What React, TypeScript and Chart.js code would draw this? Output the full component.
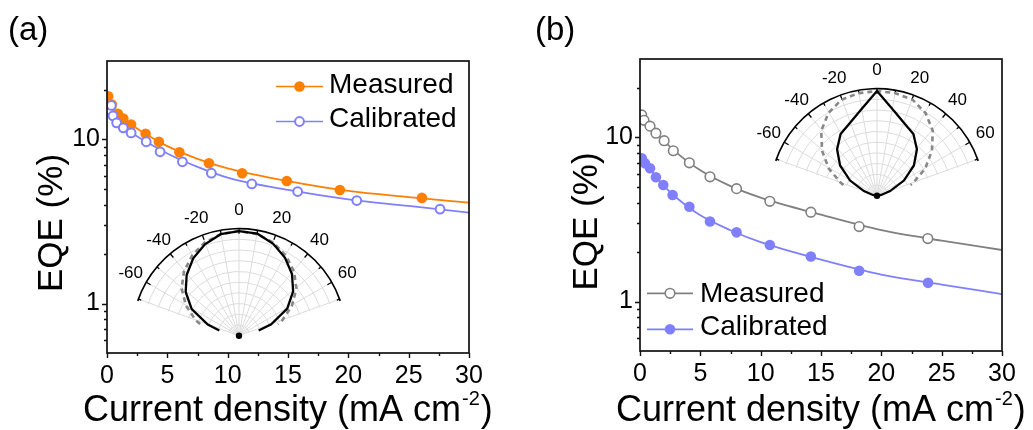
import React, { useEffect, useRef } from 'react';
import { Chart, registerables } from 'chart.js';

Chart.register(...registerables);

const FONT = "'Liberation Sans', Arial, sans-serif";

// ---------------- Panel (a) data ----------------
const A_MEAS_X = [0.1, 0.4, 0.9, 1.35, 2.0, 3.2, 4.3, 6.0, 8.45, 11.2, 14.9, 19.3, 26.1];
const A_MEAS_Y = [18.3, 16.3, 14.3, 13.4, 12.3, 10.8, 9.67, 8.34, 7.15, 6.22, 5.58, 4.92, 4.4];
const A_CAL_X = [0.17, 0.36, 0.5, 0.8, 1.35, 2.0, 3.25, 4.4, 6.25, 8.65, 12.0, 15.8, 20.7, 27.6];
const A_CAL_Y = [15.1, 16.1, 13.9, 12.6, 11.75, 10.95, 9.67, 8.4, 7.3, 6.22, 5.35, 4.81, 4.24, 3.76];
const FIT_X = [0, 1, 2, 3, 5, 7.5, 10, 15, 20, 25, 30];
const A_MEAS_FIT_Y = [19.1, 14.2, 12.3, 11.0, 9.1, 7.6, 6.65, 5.56, 4.85, 4.45, 4.12];
const A_CAL_FIT_Y = [15.0, 12.2, 11.0, 9.9, 8.2, 6.8, 5.85, 4.92, 4.31, 3.93, 3.58];

// ---------------- Panel (b) data ----------------
const B_MEAS_X = [0.14, 0.33, 0.83, 1.32, 2.0, 2.76, 4.09, 5.8, 8.0, 10.76, 14.16, 18.16, 23.85];
const B_MEAS_Y = [13.7, 12.7, 11.7, 10.6, 9.54, 8.29, 7.0, 5.75, 4.87, 4.08, 3.5, 2.86, 2.42];
const B_CAL_X = [0.15, 0.41, 0.83, 1.32, 1.93, 2.7, 4.09, 5.8, 8.0, 10.76, 14.16, 18.16, 23.87];
const B_CAL_Y = [7.45, 6.95, 6.48, 5.71, 5.13, 4.46, 3.78, 3.07, 2.64, 2.21, 1.88, 1.54, 1.3];
const B_MEAS_FIT_Y = [13.9, 11.3, 9.5, 8.1, 6.3, 5.05, 4.3, 3.38, 2.72, 2.35, 2.06];
const B_CAL_FIT_Y = [7.7, 6.2, 5.05, 4.3, 3.35, 2.72, 2.3, 1.8, 1.46, 1.27, 1.11];

// ---------------- Axes ----------------
const X_MIN = 0;
const X_MAX = 30;
const X_LABEL_TICKS = [0, 5, 10, 15, 20, 25, 30];
const X_MINOR_TICKS = [2.5, 7.5, 12.5, 17.5, 22.5, 27.5];
const Y_MIN = 0.5;
const Y_MAX = 30;
const Y_LABEL_TICKS = [1, 10];
const Y_MINOR_TICKS = [0.6, 0.7, 0.8, 0.9, 2, 3, 4, 5, 6, 7, 8, 9, 20];

// ---------------- Polar insets ----------------
const POLAR_LABELS = [-60, -40, -20, 0, 20, 40, 60];
const POLAR_SPOKES = [-70, -60, -50, -40, -30, -20, -10, 0, 10, 20, 30, 40, 50, 60, 70];
const POLAR_RINGS = [0.1, 0.2, 0.3, 0.4, 0.5, 0.6, 0.7, 0.8, 0.9];
const POLAR_SPAN = 71;

const A_SOLID_ANGLE = [-75, -70, -60, -50, -40, -30, -20, -10, 0, 10, 20, 30, 40, 50, 60, 70, 75];
const A_SOLID_R = [0.19, 0.31, 0.51, 0.65, 0.76, 0.855, 0.93, 0.985, 1.0, 0.99, 0.935, 0.86, 0.77, 0.66, 0.52, 0.32, 0.19];
const A_DASH_ANGLE = [-73, -70, -60, -50, -40, -30, -20, -10, 0, 10, 20, 30, 40, 50, 60, 70, 73];
const A_DASH_R = [0.38, 0.43, 0.57, 0.7, 0.8, 0.88, 0.945, 0.985, 1.0, 0.985, 0.945, 0.88, 0.8, 0.7, 0.57, 0.43, 0.38];
const B_SOLID_ANGLE = [-90, -80, -70, -60, -50, -40, -30, -20, -10, 0, 10, 20, 30, 40, 50, 60, 70, 80, 90];
const B_SOLID_R = [0, 0.04, 0.13, 0.29, 0.45, 0.58, 0.68, 0.74, 0.84, 1.0, 0.84, 0.74, 0.68, 0.58, 0.45, 0.29, 0.13, 0.04, 0];
const B_DASH_ANGLE = [-72, -70, -60, -50, -40, -30, -20, -10, 0, 10, 20, 30, 40, 50, 60, 70, 72];
const B_DASH_R = [0.33, 0.36, 0.52, 0.67, 0.81, 0.91, 0.975, 0.995, 1.0, 0.995, 0.975, 0.91, 0.81, 0.67, 0.52, 0.36, 0.33];

const ORANGE = '#FF8000';
const BLUE = '#8080FF';
const GRAY = '#808080';

type Pt = { x: number; y: number };
const zip = (xs: number[], ys: number[]): Pt[] => xs.map((x, i) => ({ x, y: ys[i] }));
const polar = (angles: number[], rs: number[]): Pt[] =>
  angles.map((a, i) => ({
    x: rs[i] * Math.sin((a * Math.PI) / 180),
    y: rs[i] * Math.cos((a * Math.PI) / 180),
  }));

interface Series {
  pts: Pt[];
  fit: Pt[];
  color: string;
  filled: boolean;
  label: string;
  lineY: number;
  textY: number;
}

interface PanelSpec {
  tag: string;
  tagX: number;
  width: number;
  area: { left: number; right: number; top: number; bottom: number };
  titleX: number;
  yTitleX: number;
  yTitleY: number;
  legendX0: number;
  legendX1: number;
  legendTextX: number;
  series: Series[]; // first series drawn on top
  filledR: number;
  openR: number;
  openBW: number;
}

const PANEL_A: PanelSpec = {
  tag: '(a)',
  tagX: 8,
  width: 516,
  area: { left: 107, right: 469, top: 61, bottom: 353 },
  titleX: 83,
  yTitleX: 62,
  yTitleY: 223,
  legendX0: 276,
  legendX1: 323,
  legendTextX: 329,
  filledR: 5.3,
  openR: 4.4,
  openBW: 2,
  series: [
    { pts: zip(A_CAL_X, A_CAL_Y), fit: zip(FIT_X, A_CAL_FIT_Y), color: BLUE, filled: false, label: 'Calibrated', lineY: 121.5, textY: 126.7 },
    { pts: zip(A_MEAS_X, A_MEAS_Y), fit: zip(FIT_X, A_MEAS_FIT_Y), color: ORANGE, filled: true, label: 'Measured', lineY: 86.5, textY: 93.3 },
  ],
};

const PANEL_B: PanelSpec = {
  tag: '(b)',
  tagX: 19,
  width: 517,
  area: { left: 124, right: 486, top: 59, bottom: 351 },
  titleX: 100,
  yTitleX: 81,
  yTitleY: 221.5,
  legendX0: 131,
  legendX1: 177,
  legendTextX: 184,
  filledR: 5.3,
  openR: 4.8,
  openBW: 1.6,
  series: [
    { pts: zip(B_MEAS_X, B_MEAS_Y), fit: zip(FIT_X, B_MEAS_FIT_Y), color: GRAY, filled: false, label: 'Measured', lineY: 293.3, textY: 301.7 },
    { pts: zip(B_CAL_X, B_CAL_Y), fit: zip(FIT_X, B_CAL_FIT_Y), color: BLUE, filled: true, label: 'Calibrated', lineY: 329.3, textY: 335 },
  ],
};

function drawMarker(ctx: CanvasRenderingContext2D, x: number, y: number, s: Series, spec: PanelSpec) {
  ctx.beginPath();
  ctx.arc(x, y, s.filled ? spec.filledR : spec.openR, 0, Math.PI * 2);
  if (s.filled) {
    ctx.fillStyle = s.color;
    ctx.fill();
  } else {
    ctx.fillStyle = '#fff';
    ctx.fill();
    ctx.lineWidth = spec.openBW;
    ctx.strokeStyle = s.color;
    ctx.stroke();
  }
}

function framePlugin(spec: PanelSpec) {
  return {
    id: 'frame' + spec.tag,
    afterDraw(chart: any) {
      const { ctx, chartArea: ca, scales } = chart;
      const xs = scales.x;
      const ys = scales.y;
      ctx.save();
      // box
      ctx.strokeStyle = '#111';
      ctx.lineWidth = 1.7;
      ctx.strokeRect(ca.left, ca.top, ca.right - ca.left, ca.bottom - ca.top);
      // ticks (outward)
      ctx.lineWidth = 1.4;
      ctx.beginPath();
      X_LABEL_TICKS.forEach((v) => {
        const p = Math.round(xs.getPixelForValue(v)) + 0.5;
        ctx.moveTo(p, ca.bottom);
        ctx.lineTo(p, ca.bottom + 5);
      });
      X_MINOR_TICKS.forEach((v) => {
        const p = Math.round(xs.getPixelForValue(v)) + 0.5;
        ctx.moveTo(p, ca.bottom);
        ctx.lineTo(p, ca.bottom + 3);
      });
      Y_LABEL_TICKS.forEach((v) => {
        const p = Math.round(ys.getPixelForValue(v)) + 0.5;
        ctx.moveTo(ca.left, p);
        ctx.lineTo(ca.left - 5, p);
      });
      Y_MINOR_TICKS.forEach((v) => {
        const p = Math.round(ys.getPixelForValue(v)) + 0.5;
        ctx.moveTo(ca.left, p);
        ctx.lineTo(ca.left - 3, p);
      });
      ctx.stroke();

      // axis titles
      ctx.fillStyle = '#000';
      ctx.textAlign = 'left';
      ctx.textBaseline = 'alphabetic';
      ctx.font = `36px ${FONT}`;
      let tx = spec.titleX;
      const main = 'Current density (mA cm';
      ctx.fillText(main, tx, 420.5);
      tx += ctx.measureText(main).width + 1;
      ctx.font = `20px ${FONT}`;
      ctx.fillText('-2', tx, 405);
      tx += ctx.measureText('-2').width + 1;
      ctx.font = `36px ${FONT}`;
      ctx.fillText(')', tx, 420.5);

      ctx.save();
      ctx.translate(spec.yTitleX, spec.yTitleY);
      ctx.rotate(-Math.PI / 2);
      ctx.textAlign = 'center';
      ctx.font = `35px ${FONT}`;
      ctx.fillText('EQE (%)', 0, 0);
      ctx.restore();

      ctx.font = `33px ${FONT}`;
      ctx.textAlign = 'left';
      ctx.fillText(spec.tag, spec.tagX, 39.5);

      // legend
      spec.series.forEach((s) => {
        ctx.strokeStyle = s.color;
        ctx.lineWidth = 1.7;
        ctx.beginPath();
        ctx.moveTo(spec.legendX0, s.lineY);
        ctx.lineTo(spec.legendX1, s.lineY);
        ctx.stroke();
        drawMarker(ctx, (spec.legendX0 + spec.legendX1) / 2, s.lineY, s, spec);
        ctx.fillStyle = '#000';
        ctx.font = `28px ${FONT}`;
        ctx.textAlign = 'left';
        ctx.fillText(s.label, spec.legendTextX, s.textY);
      });
      ctx.restore();
    },
  };
}

function makeMain(canvas: HTMLCanvasElement, spec: PanelSpec) {
  const markerSets = spec.series.map((s) => ({
    data: s.pts,
    showLine: false,
    pointRadius: s.filled ? spec.filledR : spec.openR,
    pointBackgroundColor: s.filled ? s.color : '#fff',
    pointBorderColor: s.color,
    pointBorderWidth: s.filled ? 0 : spec.openBW,
  }));
  const fitSets = spec.series.map((s) => ({
    data: s.fit,
    showLine: true,
    pointRadius: 0,
    borderColor: s.color,
    borderWidth: 1.8,
    cubicInterpolationMode: 'monotone',
  }));
  const a = spec.area;
  return new Chart(canvas, {
    type: 'scatter',
    data: { datasets: [...markerSets, ...fitSets] as any },
    options: {
      responsive: false,
      animation: false,
      devicePixelRatio: 1,
      events: [],
      layout: { padding: { top: a.top, right: spec.width - a.right, left: 0, bottom: 0 } },
      plugins: { legend: { display: false }, tooltip: { enabled: false } },
      scales: {
        x: {
          type: 'linear',
          min: X_MIN,
          max: X_MAX,
          afterFit: (s: any) => {
            s.height = 430 - a.bottom;
          },
          afterBuildTicks: (s: any) => {
            s.ticks = X_LABEL_TICKS.map((v) => ({ value: v }));
          },
          grid: { display: false, drawTicks: false },
          border: { display: false },
          ticks: {
            autoSkip: false,
            maxRotation: 0,
            padding: 8,
            color: '#000',
            font: { family: FONT, size: 25 },
            callback: (v: any) => String(v),
          },
        },
        y: {
          type: 'logarithmic',
          min: Y_MIN,
          max: Y_MAX,
          afterFit: (s: any) => {
            s.width = a.left;
          },
          afterBuildTicks: (s: any) => {
            s.ticks = Y_LABEL_TICKS.map((v) => ({ value: v }));
          },
          grid: { display: false, drawTicks: false },
          border: { display: false },
          ticks: {
            autoSkip: false,
            padding: 7,
            color: '#000',
            font: { family: FONT, size: 25 },
            callback: (v: any) => String(v),
          },
        },
      },
    } as any,
    plugins: [framePlugin(spec)],
  });
}

const INSET_W = 300;
const INSET_H = 165;
const INSET_R = 110;
const INSET_O = 150;

const polarGridPlugin = {
  id: 'polarGrid',
  beforeDatasetsDraw(chart: any) {
    const { ctx, scales } = chart;
    const ox = scales.x.getPixelForValue(0);
    const oy = scales.y.getPixelForValue(0);
    const R = scales.x.getPixelForValue(1) - ox;
    const d = Math.PI / 180;
    const a0 = (-POLAR_SPAN - 90) * d;
    const a1 = (POLAR_SPAN - 90) * d;
    ctx.save();
    ctx.strokeStyle = '#dcdcdc';
    ctx.lineWidth = 1;
    POLAR_RINGS.forEach((r) => {
      ctx.beginPath();
      ctx.arc(ox, oy, R * r, a0, a1);
      ctx.stroke();
    });
    POLAR_SPOKES.forEach((ang) => {
      ctx.beginPath();
      ctx.moveTo(ox, oy);
      ctx.lineTo(ox + R * Math.sin(ang * d), oy - R * Math.cos(ang * d));
      ctx.stroke();
    });
    ctx.strokeStyle = '#000';
    ctx.lineWidth = 1.7;
    ctx.beginPath();
    ctx.arc(ox, oy, R, a0, a1);
    ctx.stroke();
    ctx.lineWidth = 1.3;
    ctx.beginPath();
    POLAR_SPOKES.forEach((ang) => {
      const len = ang % 20 === 0 ? 5 : 3;
      ctx.moveTo(ox + R * Math.sin(ang * d), oy - R * Math.cos(ang * d));
      ctx.lineTo(ox + (R - len) * Math.sin(ang * d), oy - (R - len) * Math.cos(ang * d));
    });
    ctx.stroke();
    ctx.fillStyle = '#000';
    ctx.font = `17px ${FONT}`;
    ctx.textAlign = 'center';
    ctx.textBaseline = 'middle';
    POLAR_LABELS.forEach((ang) => {
      const rr = R + 18;
      ctx.fillText(String(ang), ox + rr * Math.sin(ang * d), oy - rr * Math.cos(ang * d));
    });
    ctx.restore();
  },
};

function makeInset(canvas: HTMLCanvasElement, solid: Pt[], dashed: Pt[]) {
  return new Chart(canvas, {
    type: 'scatter',
    data: {
      datasets: [
        { data: [{ x: 0, y: 0 }], pointRadius: 3.2, pointBackgroundColor: '#000', pointBorderWidth: 0 },
        { data: solid, showLine: true, pointRadius: 0, borderColor: '#000', borderWidth: 2.3 },
        { data: dashed, showLine: true, pointRadius: 0, borderColor: '#888', borderWidth: 2.6, borderDash: [5, 4] },
      ] as any,
    },
    options: {
      responsive: false,
      animation: false,
      devicePixelRatio: 1,
      events: [],
      layout: { padding: 0 },
      plugins: { legend: { display: false }, tooltip: { enabled: false } },
      scales: {
        x: { type: 'linear', display: false, min: -INSET_O / INSET_R, max: (INSET_W - INSET_O) / INSET_R },
        y: { type: 'linear', display: false, min: (INSET_O - INSET_H) / INSET_R, max: INSET_O / INSET_R },
      },
    } as any,
    plugins: [polarGridPlugin],
  });
}

export default function App() {
  const aMain = useRef<HTMLCanvasElement>(null);
  const bMain = useRef<HTMLCanvasElement>(null);
  const aIn = useRef<HTMLCanvasElement>(null);
  const bIn = useRef<HTMLCanvasElement>(null);

  useEffect(() => {
    const charts = [
      makeMain(aMain.current!, PANEL_A),
      makeMain(bMain.current!, PANEL_B),
      makeInset(aIn.current!, polar(A_SOLID_ANGLE, A_SOLID_R), polar(A_DASH_ANGLE, A_DASH_R)),
      makeInset(bIn.current!, polar(B_SOLID_ANGLE, B_SOLID_R), polar(B_DASH_ANGLE, B_DASH_R)),
    ];
    return () => charts.forEach((c) => c.destroy());
  }, []);

  const abs = (left: number, top: number, w: number, h: number): React.CSSProperties => ({
    position: 'absolute',
    left,
    top,
    width: w,
    height: h,
  });

  return (
    <div style={{ position: 'fixed', left: 0, top: 0, width: 1033, height: 430, background: '#fff', overflow: 'hidden' }}>
      <canvas ref={aMain} width={516} height={430} style={abs(0, 0, 516, 430)} />
      <canvas ref={bMain} width={517} height={430} style={abs(516, 0, 517, 430)} />
      <canvas ref={aIn} width={INSET_W} height={INSET_H} style={abs(239 - INSET_O, 339 - INSET_O, INSET_W, INSET_H)} />
      <canvas ref={bIn} width={INSET_W} height={INSET_H} style={abs(877 - INSET_O, 199 - INSET_O, INSET_W, INSET_H)} />
    </div>
  );
}
